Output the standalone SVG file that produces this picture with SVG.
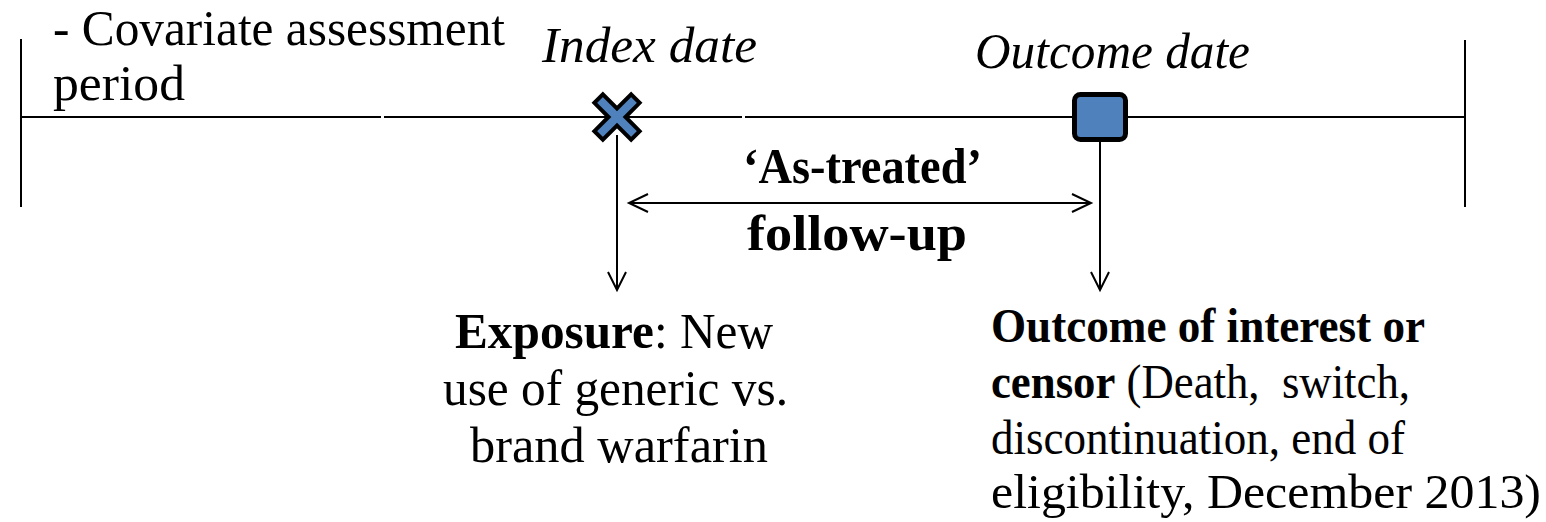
<svg xmlns="http://www.w3.org/2000/svg" width="1546" height="522" viewBox="0 0 1546 522">
<style>
.ln{stroke:#000;stroke-width:2;fill:none}
.ah{stroke:#000;stroke-width:2;fill:none;stroke-linejoin:miter}
.t{font-family:"Liberation Serif","Times New Roman",serif;font-size:51px;fill:#000}
.o{font-size:48px}
.i{font-style:italic}
.b{font-weight:bold}
.mk{fill:#4F81BD;stroke:#000;stroke-width:4}
</style>
<rect width="1546" height="522" fill="#fff"/>
<g id="timeline">
<line class="ln" x1="21" y1="39" x2="21" y2="207"/>
<line class="ln" x1="1465" y1="40" x2="1465" y2="207"/>
<line class="ln" x1="22" y1="117" x2="381" y2="117"/>
<line class="ln" x1="384" y1="117" x2="742" y2="117"/>
<line class="ln" x1="745" y1="117" x2="1464" y2="117"/>
</g>
<g id="connectors">
<line class="ln" x1="617" y1="135" x2="617" y2="290"/>
<polyline class="ah" points="608,272 617,290 626,272"/>
<line class="ln" x1="1100" y1="140" x2="1100" y2="290"/>
<polyline class="ah" points="1091,272 1100,290 1109,272"/>
<line class="ln" x1="629" y1="203" x2="1091" y2="203"/>
<polyline class="ah" points="648,194 629,203 648,212"/>
<polyline class="ah" points="1072,194 1091,203 1072,212"/>
</g>
<g id="covariate-label">
<text class="t" x="53" y="45" textLength="452" lengthAdjust="spacingAndGlyphs">- Covariate assessment</text>
<text class="t" x="53" y="100" textLength="132" lengthAdjust="spacingAndGlyphs">period</text>
</g>
<g id="index-date">
<text class="t i" x="542" y="62" textLength="215" lengthAdjust="spacingAndGlyphs">Index date</text>
<polygon class="mk" transform="translate(617,117) rotate(45)" points="-6,-26 6,-26 6,-6 26,-6 26,6 6,6 6,26 -6,26 -6,6 -26,6 -26,-6 -6,-6"/>
</g>
<g id="outcome-date">
<text class="t i" x="975" y="68" textLength="275" lengthAdjust="spacingAndGlyphs">Outcome date</text>
<rect x="1074.5" y="94.5" width="51" height="45" rx="6" fill="#4F81BD" stroke="#000" stroke-width="5"/>
</g>
<g id="follow-up">
<text class="t b" x="743" y="183" font-size="44" textLength="239" lengthAdjust="spacingAndGlyphs">‘As-treated’</text>
<text class="t b" x="747" y="250" font-size="45" textLength="220" lengthAdjust="spacingAndGlyphs">follow-up</text>
</g>
<g id="exposure">
<text class="t" x="455" y="348" textLength="318" lengthAdjust="spacingAndGlyphs"><tspan class="b">Exposure</tspan>: New</text>
<text class="t" x="443" y="405" textLength="345" lengthAdjust="spacingAndGlyphs">use of generic vs.</text>
<text class="t" x="470" y="462" textLength="298" lengthAdjust="spacingAndGlyphs">brand warfarin</text>
</g>
<g id="outcome">
<text class="t o b" x="991" y="342" textLength="434" lengthAdjust="spacingAndGlyphs">Outcome of interest or</text>
<text class="t o" x="991" y="398" textLength="419" lengthAdjust="spacingAndGlyphs" xml:space="preserve"><tspan class="b">censor</tspan> (Death,  switch,</text>
<text class="t o" x="991" y="454" textLength="414" lengthAdjust="spacingAndGlyphs">discontinuation, end of</text>
<text class="t o" x="991" y="508" textLength="550" lengthAdjust="spacingAndGlyphs">eligibility, December 2013)</text>
</g>
</svg>
